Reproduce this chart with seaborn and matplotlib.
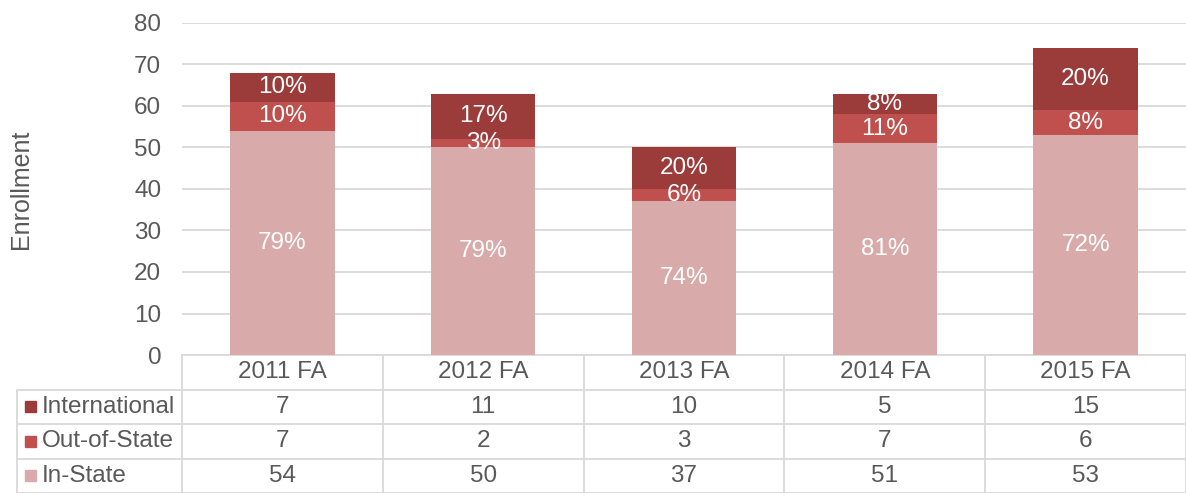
import matplotlib
matplotlib.use("Agg")
import matplotlib.pyplot as plt
import numpy as np
import pandas as pd
import seaborn as sns

# enrollment by residency, fall terms
terms = ["2011 FA", "2012 FA", "2013 FA", "2014 FA", "2015 FA"]
in_state = [54, 50, 37, 51, 53]
out_of_state = [7, 2, 3, 7, 6]
international = [7, 11, 10, 5, 15]

series_names = ["International", "Out-of-State", "In-State"]
colors = {"International": "#9C3C3A", "Out-of-State": "#C0504D", "In-State": "#D9AAAA"}
yticks = list(range(0, 90, 10))

GRAY = "#595959"
GRID = "#D9D9D9"
FS = 17.5

sns.set_style("white")
plt.rcParams["font.family"] = ["Liberation Sans", "DejaVu Sans"]

df = pd.DataFrame({"term": terms, "In-State": in_state,
                   "Out-of-State": out_of_state, "International": international})
df["lvl1"] = df["In-State"]
df["lvl2"] = df["lvl1"] + df["Out-of-State"]
df["lvl3"] = df["lvl2"] + df["International"]

W, H = 1186, 493
fig = plt.figure(figsize=(W / 100, H / 100), dpi=100)
left_px, right_px, top_px, base_px = 182, 1186, 23, 355
ax = fig.add_axes([left_px / W, (H - base_px) / H, (right_px - left_px) / W, (base_px - top_px) / H])

# stacked bars: draw cumulative heights, tallest first
for col, name in [("lvl3", "International"), ("lvl2", "Out-of-State"), ("lvl1", "In-State")]:
    sns.barplot(data=df, x="term", y=col, color=colors[name], saturation=1,
                width=0.52, linewidth=0, ax=ax, zorder=3)

# percentage labels inside each segment
for i, row in df.iterrows():
    total = row["lvl3"]
    segs = [("In-State", 0), ("Out-of-State", row["lvl1"]), ("International", row["lvl2"])]
    for name, bottom in segs:
        v = row[name]
        ax.text(i, bottom + v / 2, f"{round(100 * v / total)}%", ha="center", va="center",
                color="white", fontsize=FS, zorder=4)

ax.set_xlim(-0.5, 4.5)
ax.set_ylim(0, 80)
ax.set_yticks(yticks)
ax.yaxis.grid(True, color=GRID, linewidth=1.3, zorder=0)
ax.set_axisbelow(True)
ax.set_xticks([])
ax.set_xlabel("")
ax.set_ylabel("Enrollment", fontsize=18, color=GRAY)
ax.yaxis.set_label_coords((33 - left_px) / (right_px - left_px), 0.5)
ax.tick_params(axis="y", length=0, pad=15, labelsize=FS, labelcolor=GRAY)
for s in ["left", "right", "top"]:
    ax.spines[s].set_visible(False)
ax.spines["bottom"].set_color(GRID)
ax.spines["bottom"].set_linewidth(1.3)

# data table under the chart
tleft_px = 17
tax = fig.add_axes([tleft_px / W, 0, (right_px - tleft_px) / W, (H - base_px) / H])
cat_w = (right_px - left_px) / 5
x0 = -0.5 - (left_px - tleft_px) / cat_w
tax.set_xlim(x0, 4.5)
tax.set_ylim(0, 4)
tax.axis("off")
lk = dict(color=GRID, linewidth=1.3, clip_on=False)
for y in [0, 1, 2, 3]:
    tax.plot([x0, 4.5], [y, y], **lk)
tax.plot([x0, x0], [0, 3], **lk)
for xb in np.arange(-0.5, 5, 1):
    tax.plot([xb, xb], [0, 4], **lk)

for i, t in enumerate(terms):
    tax.text(i, 3.5, t, ha="center", va="center", fontsize=FS, color=GRAY)

rows = {"International": international, "Out-of-State": out_of_state, "In-State": in_state}
sq = 11 / cat_w
for r, name in enumerate(series_names):
    yc = 2.5 - r
    tax.add_patch(plt.Rectangle((x0 + 8 / cat_w, yc - 0.16), sq, 0.32,
                                color=colors[name], clip_on=False))
    tax.text(x0 + 25 / cat_w, yc, name, ha="left", va="center", fontsize=FS, color=GRAY)
    for i, v in enumerate(rows[name]):
        tax.text(i, yc, str(v), ha="center", va="center", fontsize=FS, color=GRAY)

fig.savefig("out.png", dpi=100)
